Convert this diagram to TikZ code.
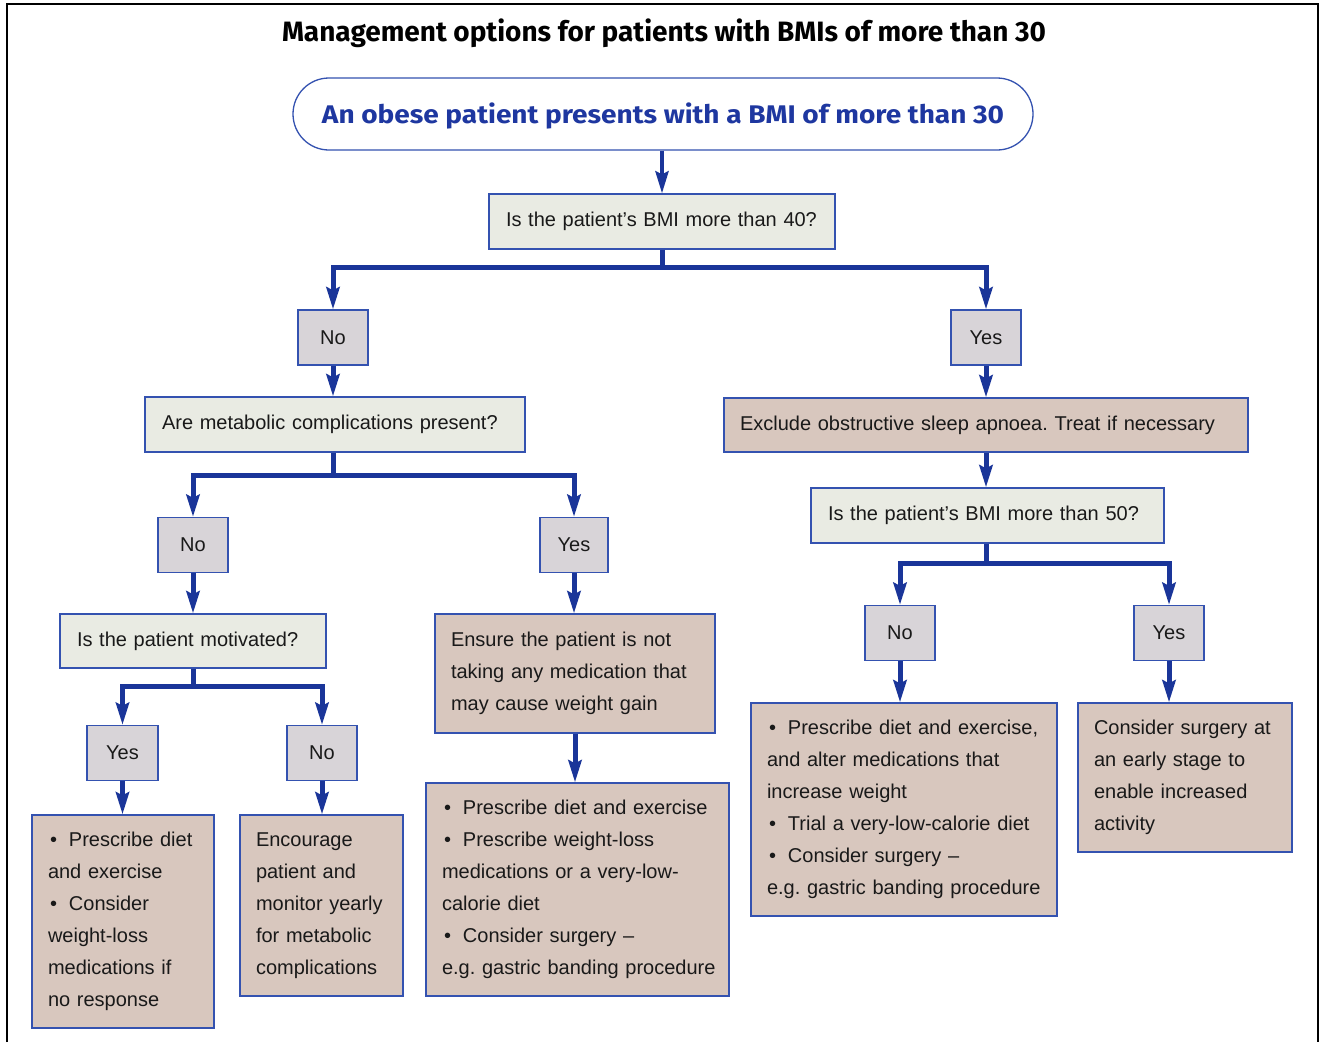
\documentclass[tikz,border=0pt]{standalone}
\usepackage{fontspec}
\usepackage{graphicx}
\setmainfont{Liberation Sans}
\newfontfamily\condfont{Fira Sans}
\usetikzlibrary{arrows.meta,calc}
\definecolor{conncol}{RGB}{26,53,153}
\definecolor{bordcol}{RGB}{52,82,176}
\definecolor{titleblue}{RGB}{30,55,160}
\definecolor{qfill}{RGB}{233,235,227}
\definecolor{ynfill}{RGB}{216,212,216}
\definecolor{brfill}{RGB}{216,199,190}
\definecolor{txt}{RGB}{25,25,25}
\frenchspacing
\newcommand\bul{\hspace*{2pt}\textbullet\hspace{12pt}}
\newcommand\ml[1]{\mbox{#1}}
\tikzset{
  box/.style={draw=bordcol, line width=1.3pt, rectangle, inner ysep=0pt, text=txt,
    font=\fontsize{20}{32}\selectfont},
  qbox/.style={box, fill=qfill, inner xsep=17pt, align=left},
  ynbox/.style={box, fill=ynfill, inner sep=0pt, minimum width=70pt, minimum height=55pt},
  brbox/.style={box, fill=brfill, inner xsep=16pt, align=left},
  conn/.style={draw=conncol, line width=5pt},
  arr/.style={conn, -{Stealth[length=22pt,width=13pt,inset=3pt]}},
}
\newcommand\qb[5]{\node[qbox, text width=#3pt-34pt, minimum width=#3pt, minimum height=#4pt] (#1) at #2 {\ml{#5}};}
\newcommand\bb[5]{\node[brbox, text width=#3pt-32pt, minimum width=#3pt, minimum height=#4pt] (#1) at #2 {#5};}
\begin{document}
\begin{tikzpicture}[x=1pt,y=-1pt]
\useasboundingbox (0,0) rectangle (1319,1042);
\fill[white] (0,0) rectangle (1319,1042);
% frame
\draw[line width=2pt, black] (7,1042) -- (7,4) -- (1318,4) -- (1318,1042);
% title
\node[anchor=base, inner sep=0pt] (title) at (664,41)
  {\resizebox{764pt}{\height}{\condfont\bfseries\fontsize{28}{30}\selectfont Management options for patients with BMIs of more than 30}};
% top box
\node[draw=bordcol, line width=1.3pt, rounded corners=36pt, minimum width=740pt, minimum height=72pt, inner sep=0pt] (top) at (663,114) {};
\node[anchor=base, inner sep=0pt, text=titleblue] (toptext) at (663,123)
  {\resizebox{682pt}{\height}{\condfont\bfseries\fontsize{25.5}{28}\selectfont An obese patient presents with a BMI of more than 30}};
% questions
\qb{q1}{(662,221.5)}{346}{55}{Is the patient’s BMI more than 40?}
\qb{q2}{(335,424.5)}{380}{55}{Are metabolic complications present?}
\qb{q3}{(987.5,515.5)}{353}{55}{Is the patient’s BMI more than 50?}
\qb{q4}{(193,641)}{266}{54}{Is the patient motivated?}
% yes/no
\node[ynbox] (no1) at (333,337.5) {No};
\node[ynbox] (yes1) at (986,337.5) {Yes};
\node[ynbox] (no2) at (193,545) {No};
\node[ynbox, minimum width=68pt] (yes2) at (574,545) {Yes};
\node[ynbox] (no3) at (900,633) {No};
\node[ynbox] (yes3) at (1169,633) {Yes};
\node[ynbox, minimum width=71pt] (yes4) at (122.5,753) {Yes};
\node[ynbox] (no4) at (322,753) {No};
% brown boxes
\bb{excl}{(986,425)}{524}{54}{\ml{Exclude obstructive sleep apnoea. Treat if necessary}}
\bb{ensure}{(575,673.5)}{280}{119}{\ml{Ensure the patient is not}\\\ml{taking any medication that}\\\ml{may cause weight gain}}
\bb{box1}{(123,921.5)}{182}{213}{\ml{\bul Prescribe diet}\\\ml{and exercise}\\\ml{\bul Consider}\\\ml{weight-loss}\\\ml{medications if}\\\ml{no response}}
\bb{box2}{(321.5,905.5)}{163}{181}{\ml{Encourage}\\\ml{patient and}\\\ml{monitor yearly}\\\ml{for metabolic}\\\ml{complications}}
\bb{box3}{(577.5,889.5)}{303}{213}{\ml{\bul Prescribe diet and exercise}\\\ml{\bul Prescribe weight-loss}\\\ml{medications or a very-low-}\\\ml{calorie diet}\\\ml{\bul Consider surgery –}\\\ml{e.g. gastric banding procedure}}
\bb{box4}{(904,809.5)}{306}{213}{\ml{\bul Prescribe diet and exercise,}\\\ml{and alter medications that}\\\ml{increase weight}\\\ml{\bul Trial a very-low-calorie diet}\\\ml{\bul Consider surgery –}\\\ml{e.g. gastric banding procedure}}
\bb{box5}{(1185,777.5)}{214}{149}{\ml{Consider surgery at}\\\ml{an early stage to}\\\ml{enable increased}\\\ml{activity}}
% connectors
\coordinate (s1) at (662,267);
\coordinate (s2) at (333,475);
\coordinate (s3) at (986,563);
\coordinate (s4) at (193,686);
\draw[arr, line width=4pt] (top.south -| q1.north) -- (q1.north);
\draw[conn] (q1.south) -- (s1);
\draw[arr] (s1) -| (no1.north);
\draw[arr] (s1) -| (yes1.north);
\draw[arr] (no1.south) -- (no1.south |- q2.north);
\draw[arr] (yes1.south) -- (yes1.south |- excl.north);
\draw[conn] (s2 |- q2.south) -- (s2);
\draw[arr] (s2) -| (no2.north);
\draw[arr] (s2) -| (yes2.north);
\draw[arr] (excl.south) -- (excl.south |- q3.north);
\draw[conn] (s3 |- q3.south) -- (s3);
\draw[arr] (s3) -| (no3.north);
\draw[arr] (s3) -| (yes3.north);
\draw[arr] (no2.south) -- (no2.south |- q4.north);
\draw[arr] (yes2.south) -- (yes2.south |- ensure.north);
\draw[conn] (q4.south) -- (s4);
\draw[arr] (s4) -| (yes4.north);
\draw[arr] (s4) -| (no4.north);
\draw[arr] (ensure.south) -- (ensure.south |- box3.north);
\draw[arr] (yes4.south) -- (yes4.south |- box1.north);
\draw[arr] (no4.south) -- (no4.south |- box2.north);
\draw[arr] (no3.south) -- (no3.south |- box4.north);
\draw[arr] (yes3.south) -- (yes3.south |- box5.north);
\end{tikzpicture}
\end{document}
